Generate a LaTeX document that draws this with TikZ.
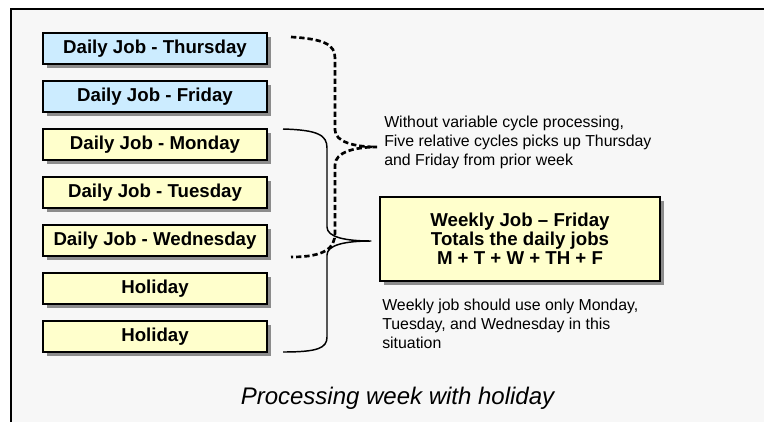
\documentclass[tikz,border=0pt]{standalone}
\usepackage{fontspec}
\setmainfont{Liberation Sans}
\usetikzlibrary{shadows}
\definecolor{jobblue}{HTML}{CCECFF}
\definecolor{jobyellow}{HTML}{FFFFCC}
\definecolor{panelgray}{HTML}{F7F7F7}
\definecolor{shadowgray}{HTML}{8C8C8C}

\begin{document}
\begin{tikzpicture}[x=0.75pt,y=0.75pt,yscale=-1,xscale=1,
  jobbox/.style={draw=black, line width=1.1pt, minimum width=168pt, minimum height=23.25pt, inner sep=0pt,
    font=\fontsize{14}{14.25}\selectfont\bfseries,
    drop shadow={shadow xshift=3pt, shadow yshift=-3pt, fill=shadowgray, opacity=1}},
  notetext/.style={align=left, inner sep=0pt, font=\fontsize{11.9}{14.25}\selectfont},
  bracket/.style={line width=1.1pt, line join=round},
  dashbracket/.style={line width=2pt, dash pattern=on 4pt off 2.2pt}]
\useasboundingbox (0,0) rectangle (764,422);

% Panel
\fill[panelgray] (11,9) rectangle (764,422);
\draw[line width=1.1pt] (11,422) -- (11,9) -- (764,9);

% Daily job boxes
\node[jobbox, fill=jobblue] (thu) at (155,48.5) {Daily Job - Thursday};
\node[jobbox, fill=jobblue] (fri) at (155,96.5) {Daily Job - Friday};
\node[jobbox, fill=jobyellow] (mon) at (155,144.5) {Daily Job - Monday};
\node[jobbox, fill=jobyellow] (tue) at (155,192.5) {Daily Job - Tuesday};
\node[jobbox, fill=jobyellow] (wed) at (155,240.5) {Daily Job - Wednesday};
\node[jobbox, fill=jobyellow] (hol1) at (155,288.5) {Holiday};
\node[jobbox, fill=jobyellow] (hol2) at (155,336.5) {Holiday};

% Weekly job box
\node[jobbox, fill=jobyellow, minimum width=210pt, minimum height=63pt, align=center] (weekly) at (520,239)
  {Weekly Job -- Friday\\ Totals the daily jobs\\ M + T + W + TH + F};

% Text Node
\node[notetext, anchor=west] (prior) at (384,142) {Without variable cycle processing,\\ Five relative cycles picks up Thursday\\ and Friday from prior week};
% Text Node
\node[notetext, anchor=west] (should) at (382,324) {Weekly job should use only Monday,\\ Tuesday, and Wednesday in this\\ situation};
% Text Node
\node[font=\fontsize{18}{20}\selectfont\itshape, inner sep=0pt] (caption) at (397.5,398) {Processing week with holiday};

% Bracket ends
\coordinate (dashTop) at (291,37);
\coordinate (dashTip) at (377,147);
\coordinate (dashBot) at (291,257);
\coordinate (lineTop) at (283,129);
\coordinate (lineTip) at (371,241);
\coordinate (lineBot) at (283,352);

% Connection
\draw[dashbracket] (dashTop) .. controls (325,39) and (335,45) .. (335,58) -- (335,130)
  .. controls (335,142) and (355,147) .. (dashTip)
  .. controls (355,147) and (335,152) .. (335,165) -- (335,233)
  .. controls (335,248) and (325,257) .. (dashBot);
% Connection
\draw[bracket] (lineTop) .. controls (318,130) and (327,135) .. (327,148) -- (327,227)
  .. controls (327,237) and (345,241) .. (lineTip)
  .. controls (345,241) and (327,245) .. (327,255) -- (327,337)
  .. controls (327,348) and (318,352) .. (lineBot);

\end{tikzpicture}
\end{document}
